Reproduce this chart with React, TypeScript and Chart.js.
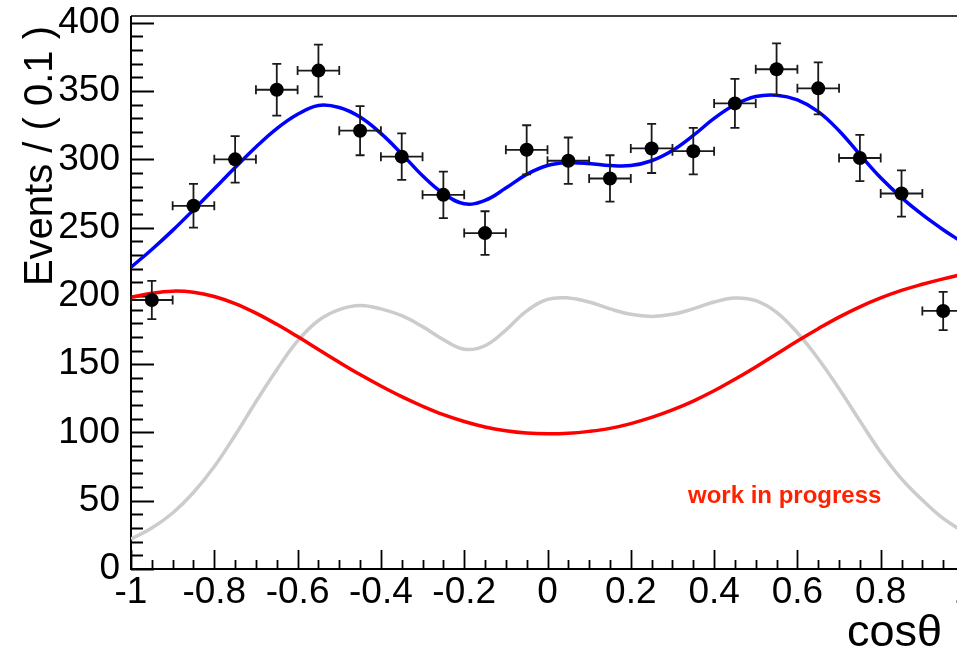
import { useEffect, useRef } from 'react';
import { Chart, registerables } from 'chart.js';

Chart.register(...registerables);

const FONT = '"Liberation Sans", Arial, Helvetica, sans-serif';

// Binned data: cos(theta) bin centres, event counts and their errors
const binCenters = [-0.95, -0.85, -0.75, -0.65, -0.55, -0.45, -0.35, -0.25, -0.15, -0.05,
  0.05, 0.15, 0.25, 0.35, 0.45, 0.55, 0.65, 0.75, 0.85, 0.95];
const eventCounts = [197, 266, 300, 351, 365, 321, 302, 274, 246, 307,
  299, 286, 308, 306, 341, 366, 352, 301, 275, 189];
const countErrors = [14, 16, 17, 19, 19, 18, 17, 17, 16, 18,
  17, 17, 18, 17, 18, 19, 19, 17, 17, 14];
const binHalfWidth = 0.05;

// Fit curves sampled along cos(theta)
const curveX = [-1, -0.95, -0.9, -0.85, -0.8, -0.75, -0.7, -0.65, -0.6, -0.55, -0.5,
  -0.45, -0.4, -0.35, -0.3, -0.25, -0.2, -0.15, -0.1, -0.05, 0,
  0.05, 0.1, 0.15, 0.2, 0.25, 0.3, 0.35, 0.4, 0.45, 0.5,
  0.55, 0.6, 0.65, 0.7, 0.75, 0.8, 0.85, 0.9, 0.95, 1];
const totalFit = [221, 234, 248, 263, 278.5, 294, 309, 322.5, 333, 339.5, 338,
  331, 319, 304, 288, 275, 267.5, 270, 279, 289, 295.5,
  297.5, 297, 295.5, 295.5, 299, 306.5, 317.5, 330, 340, 346,
  347, 343.5, 335, 321, 303.5, 286.5, 272, 259.5, 248.5, 238.5];
const backgroundFit = [199, 202, 203.5, 202.7, 199.6, 194.4, 187.4, 179.2, 170.2, 160.8, 151.4,
  142.4, 134, 126.2, 119.2, 113, 108, 104, 101.3, 99.6, 99,
  99.4, 100.8, 103, 106.5, 111, 116.5, 123, 130.5, 139, 148,
  157.5, 167, 176, 184.5, 192, 198.5, 204, 208.5, 212.5, 216];
const signalFit = [22, 30, 41, 56, 75, 98, 122.5, 146, 167, 182, 190,
  193, 190.5, 185.5, 177.5, 168, 161, 163.5, 175, 189, 197.5,
  198.5, 195.5, 190.5, 186.5, 185, 186.5, 190.5, 195.5, 198.5, 196.5,
  188, 173, 154, 132, 108.5, 85.5, 66, 50.5, 37, 27];

const xTickValues = [-1, -0.8, -0.6, -0.4, -0.2, 0, 0.2, 0.4, 0.6, 0.8, 1];
const xTickLabels = ['-1', '-0.8', '-0.6', '-0.4', '-0.2', '0', '0.2', '0.4', '0.6', '0.8', '1'];
const yTickValues = [0, 50, 100, 150, 200, 250, 300, 350, 400];
const yTickLabels = ['0', '50', '100', '150', '200', '250', '300', '350', '400'];

const xAxisTitle = 'cosθ';
const yAxisTitle = 'Events / ( 0.1 )';
const statusLabel = 'work in progress';

// Canvas / frame geometry
const CANVAS_W = 1000;
const CANVAS_H = 656;
const PLOT_LEFT = 131;
const PLOT_TOP = 16;
const PLOT_BOTTOM = 569;
const PLOT_RIGHT = 964;

const frameAndTicks = {
  id: 'frameAndTicks',
  beforeDatasetsDraw(chart: any) {
    const { ctx, chartArea: a, scales } = chart;
    const x = scales.x;
    const y = scales.y;
    ctx.save();
    ctx.strokeStyle = '#000';
    ctx.lineCap = 'butt';
    // top and right frame
    ctx.lineWidth = 1.5;
    ctx.beginPath();
    ctx.moveTo(a.left, a.top);
    ctx.lineTo(a.right, a.top);
    ctx.lineTo(a.right, a.bottom);
    ctx.stroke();
    // axis lines
    ctx.lineWidth = 2;
    ctx.beginPath();
    ctx.moveTo(a.left, a.top);
    ctx.lineTo(a.left, a.bottom);
    ctx.lineTo(a.right, a.bottom);
    ctx.stroke();
    // y ticks: major every 50, minor every 10
    ctx.lineWidth = 1.8;
    ctx.beginPath();
    for (let v = 0; v <= 400; v += 10) {
      const py = Math.round(y.getPixelForValue(v)) + 0.5;
      const len = v % 50 === 0 ? 23 : 12;
      ctx.moveTo(a.left, py);
      ctx.lineTo(a.left + len, py);
    }
    // x ticks: major every 0.2, minor every 0.05
    for (let i = 0; i <= 40; i++) {
      const v = -1 + i * 0.05;
      const px = Math.round(x.getPixelForValue(v)) + 0.5;
      const len = i % 4 === 0 ? 19 : 9;
      ctx.moveTo(px, a.bottom);
      ctx.lineTo(px, a.bottom - len);
    }
    ctx.stroke();
    ctx.restore();
  },
};

const errorBars = {
  id: 'errorBars',
  beforeDatasetDraw(chart: any, args: any) {
    if (args.index !== 0) return;
    const { ctx, scales } = chart;
    const x = scales.x;
    const y = scales.y;
    const cap = 4.5;
    ctx.save();
    ctx.strokeStyle = '#1a1a1a';
    ctx.lineWidth = 1.8;
    ctx.beginPath();
    binCenters.forEach((c, i) => {
      const px = x.getPixelForValue(c);
      const py = y.getPixelForValue(eventCounts[i]);
      const yTop = y.getPixelForValue(eventCounts[i] + countErrors[i]);
      const yBot = y.getPixelForValue(eventCounts[i] - countErrors[i]);
      const xL = x.getPixelForValue(c - binHalfWidth);
      const xR = x.getPixelForValue(c + binHalfWidth);
      ctx.moveTo(px, yTop);
      ctx.lineTo(px, yBot);
      ctx.moveTo(px - cap, yTop);
      ctx.lineTo(px + cap, yTop);
      ctx.moveTo(px - cap, yBot);
      ctx.lineTo(px + cap, yBot);
      ctx.moveTo(xL, py);
      ctx.lineTo(xR, py);
      ctx.moveTo(xL, py - cap);
      ctx.lineTo(xL, py + cap);
      ctx.moveTo(xR, py - cap);
      ctx.lineTo(xR, py + cap);
    });
    ctx.stroke();
    ctx.restore();
  },
};

const annotations = {
  id: 'annotations',
  afterDraw(chart: any) {
    const { ctx } = chart;
    ctx.save();
    ctx.fillStyle = '#000';
    // y-axis title, rotated, aligned to the top end of the axis
    ctx.save();
    ctx.translate(52, 26);
    ctx.rotate(-Math.PI / 2);
    ctx.font = `40px ${FONT}`;
    ctx.textAlign = 'right';
    ctx.textBaseline = 'alphabetic';
    ctx.fillText(yAxisTitle, 0, 0);
    ctx.restore();
    // x-axis title, aligned to the right end of the axis
    ctx.font = `45px ${FONT}`;
    ctx.textAlign = 'right';
    ctx.textBaseline = 'alphabetic';
    ctx.fillText(xAxisTitle, 942, 646);
    // status label
    ctx.font = `bold 24px ${FONT}`;
    ctx.fillStyle = '#ff2200';
    ctx.textAlign = 'left';
    ctx.fillText(statusLabel, 688, 503);
    ctx.restore();
  },
};

function toPoints(xs: number[], ys: number[]) {
  return xs.map((v, i) => ({ x: v, y: ys[i] }));
}

export default function App() {
  const canvasRef = useRef<HTMLCanvasElement | null>(null);

  useEffect(() => {
    if (!canvasRef.current) return;
    const curveStyle = {
      showLine: true,
      pointRadius: 0,
      borderWidth: 3.5,
      tension: 0.4,
      fill: false,
    };
    const chart = new Chart(canvasRef.current, {
      type: 'scatter',
      data: {
        datasets: [
          {
            label: 'data',
            data: toPoints(binCenters, eventCounts),
            pointRadius: 7,
            pointBackgroundColor: '#000',
            pointBorderWidth: 0,
            showLine: false,
          },
          { label: 'total', data: toPoints(curveX, totalFit), borderColor: '#0000ff', ...curveStyle },
          { label: 'background', data: toPoints(curveX, backgroundFit), borderColor: '#ff0000', ...curveStyle },
          { label: 'signal', data: toPoints(curveX, signalFit), borderColor: '#cccccc', ...curveStyle },
        ],
      },
      options: {
        animation: false,
        responsive: false,
        events: [],
        layout: {
          padding: { left: 0, top: PLOT_TOP, right: CANVAS_W - PLOT_RIGHT, bottom: 0 },
        },
        plugins: {
          legend: { display: false },
          tooltip: { enabled: false },
        },
        scales: {
          x: {
            type: 'linear',
            min: -1,
            max: 1,
            grid: { display: false, drawTicks: false },
            border: { display: false },
            afterBuildTicks: (scale: any) => {
              scale.ticks = xTickValues.map((value) => ({ value }));
            },
            afterFit: (scale: any) => {
              scale.height = CANVAS_H - PLOT_BOTTOM;
              scale.paddingLeft = 0;
              scale.paddingRight = 0;
            },
            ticks: {
              autoSkip: false,
              maxRotation: 0,
              padding: 2,
              color: '#000',
              font: { family: FONT, size: 37 },
              callback: (value: any) => xTickLabels[xTickValues.indexOf(Number(value))] ?? '',
            },
          },
          y: {
            type: 'linear',
            min: 0,
            max: 405,
            grid: { display: false, drawTicks: false },
            border: { display: false },
            afterBuildTicks: (scale: any) => {
              scale.ticks = yTickValues.map((value) => ({ value }));
            },
            afterFit: (scale: any) => {
              scale.width = PLOT_LEFT;
              scale.paddingTop = 0;
              scale.paddingBottom = 0;
            },
            ticks: {
              autoSkip: false,
              padding: 11,
              color: '#000',
              font: { family: FONT, size: 37 },
              callback: (value: any) => yTickLabels[yTickValues.indexOf(Number(value))] ?? '',
            },
          },
        },
      },
      plugins: [frameAndTicks, errorBars, annotations],
    });
    return () => chart.destroy();
  }, []);

  return (
    <div
      style={{
        position: 'fixed',
        left: 0,
        top: 0,
        width: 957,
        height: 656,
        overflow: 'hidden',
        background: '#fff',
      }}
    >
      <canvas
        ref={canvasRef}
        width={CANVAS_W}
        height={CANVAS_H}
        style={{ width: CANVAS_W, height: CANVAS_H, display: 'block' }}
      />
    </div>
  );
}
